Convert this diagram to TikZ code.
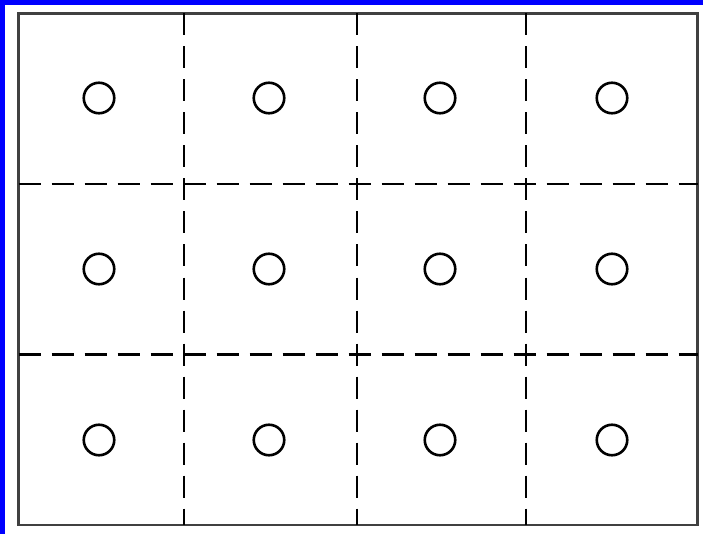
\documentclass[tikz,border=0pt]{standalone}
\usepackage{tikz}
\usetikzlibrary{positioning}

\begin{document}
\begin{tikzpicture}[
    x=1pt, y=-1pt,
    spot/.style={circle, draw=black, line width=2.6pt, minimum size=30.5pt, inner sep=0pt},
    frame/.style={draw=black!75, line width=2.4pt},
    cut/.style={black, line width=2.6pt, dash pattern=on 22pt off 11pt},
    band/.style={fill=blue, draw=none}
]
    \useasboundingbox (0,0) rectangle (703,534);

    % --- blue edge (top and left) ---
    \fill[band] (0,0) rectangle (703,5.5);
    \fill[band] (0,0) rectangle (5,534);

    % --- outer frame ---
    \coordinate (TL) at (18.5,13.5);
    \coordinate (BR) at (697.5,525);
    \draw[frame] (TL) rectangle (BR);

    % --- dashed cuts ---
    \draw[cut] (18.5,184) -- (697.5,184);
    \draw[cut] (18.5,354.5) -- (697.5,354.5);
    \draw[cut] (184,13.5) -- (184,525);
    \draw[cut] (357,13.5) -- (357,525);
    \draw[cut] (526,13.5) -- (526,525);

    % --- row 1 ---
    \node[spot] (s11) at (99,98)  {};
    \node[spot] (s12) at (269,98) {};
    \node[spot] (s13) at (440,98) {};
    \node[spot] (s14) at (612,98) {};

    % --- row 2 ---
    \node[spot] (s21) at (99,269)  {};
    \node[spot] (s22) at (269,269) {};
    \node[spot] (s23) at (440,269) {};
    \node[spot] (s24) at (612,269) {};

    % --- row 3 ---
    \node[spot] (s31) at (99,440)  {};
    \node[spot] (s32) at (269,440) {};
    \node[spot] (s33) at (440,440) {};
    \node[spot] (s34) at (612,440) {};

\end{tikzpicture}
\end{document}
